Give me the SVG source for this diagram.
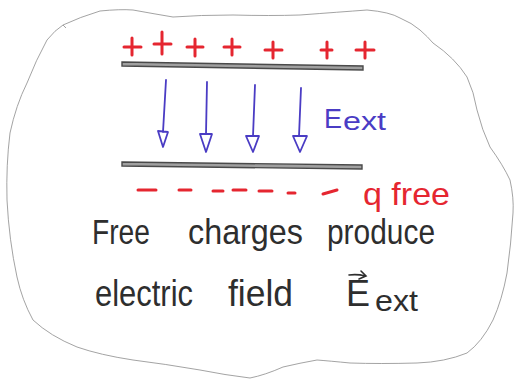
<svg xmlns="http://www.w3.org/2000/svg" width="514" height="381" viewBox="0 0 514 381">
<style>
.outline{fill:none;stroke:#999999;stroke-width:0.9;stroke-linejoin:round}
.plus{fill:none;stroke:#e52630;stroke-width:3;stroke-linecap:round}
.minus{fill:none;stroke:#e52630;stroke-width:3;stroke-linecap:round}
.plate{fill:#a0a0a0;stroke:#4a4a4a;stroke-width:1.4}
.field{fill:none;stroke:#4a3cc4;stroke-width:1.8;stroke-linecap:round;stroke-linejoin:round}
.hand{font-family:"Liberation Sans","DejaVu Sans",sans-serif;fill:#2e2e2e}
.red{font-family:"Liberation Sans","DejaVu Sans",sans-serif;fill:#e52630}
.blue{font-family:"Liberation Sans","DejaVu Sans",sans-serif;fill:#4a3cc4}
</style>
<rect width="514" height="381" fill="#ffffff"/>
<path class="outline" d="M66,28 L63,25 Q80,17 100,11 Q120,9 133,10 Q155,14 173,17 Q200,15 233,15 Q270,16 300,15 Q340,12 367,10 Q390,12 400,18 Q412,23 420,30 Q428,37 433,43 Q455,58 467,77 Q474,92 477,110 Q482,130 490,147 Q503,165 510,180 Q514,198 513,213 Q511,245 507,273 Q502,300 493,320 Q482,342 467,353 Q445,362 417,363 Q380,364 350,363 Q330,361 317,360 Q300,363 283,367 Q265,375 250,378 Q225,375 200,370 Q165,364 133,360 Q100,355 77,347 Q50,336 33,320 Q22,300 17,277 Q9,240 7,200 Q6,165 10,133 Q16,105 27,83 Q36,60 47,40 Q55,30 63,25"/>
<g id="plus-charges">
<path class="plus" d="M124,47 H141 M132,38 V55"/>
<path class="plus" d="M154,44 H171 M162,32 V54"/>
<path class="plus" d="M187,47 H203 M195,39 V56"/>
<path class="plus" d="M224,47 H240 M232,39 V55"/>
<path class="plus" d="M265,50 H282 M273,42 V58"/>
<path class="plus" d="M321,50 H332 M327,42 V58"/>
<path class="plus" d="M356,50 H374 M365,42 V58"/>
</g>
<g id="top-plate">
<path class="plate" d="M122,62 L363,66 L363,70 L122,66 Z"/>
</g>
<g id="bottom-plate">
<path class="plate" d="M122,162 L362,165 L362,169 L122,166 Z"/>
</g>
<g id="field-lines">
<path class="field" d="M166,80 L163,132 M158,131 L163,147 L168,132 Z"/>
<path class="field" d="M207,82 L206,134 M200,134 L206,152 L212,134 Z"/>
<path class="field" d="M255,85 L253,136 M246,136 L253,152 L259,136 Z"/>
<path class="field" d="M301,88 L299,136 M293,136 L300,152 L307,136 Z"/>
</g>
<g id="label-eext">
<text class="blue" x="324" y="128" font-size="27">E<tspan font-size="25" dx="1" dy="2" textLength="43" lengthAdjust="spacingAndGlyphs">ext</tspan></text>
</g>
<g id="minus-charges">
<path class="minus" d="M138,190 H156"/>
<path class="minus" d="M179,190 H191"/>
<path class="minus" d="M213,191 H223"/>
<path class="minus" d="M233,190 H246"/>
<path class="minus" d="M259,191 H272"/>
<path class="minus" d="M288,193 H295"/>
<path class="minus" d="M323,194 L337,190"/>
</g>
<g id="label-qfree">
<text class="red" x="363" y="205" font-size="32" textLength="87" lengthAdjust="spacingAndGlyphs">q free</text>
</g>
<g id="caption">
<text class="hand" x="92" y="244" font-size="35" textLength="58" lengthAdjust="spacingAndGlyphs">Free</text>
<text class="hand" x="188" y="244" font-size="35" textLength="115" lengthAdjust="spacingAndGlyphs">charges</text>
<text class="hand" x="327" y="244" font-size="35" textLength="108" lengthAdjust="spacingAndGlyphs">produce</text>
<text class="hand" x="95" y="306" font-size="36" textLength="98" lengthAdjust="spacingAndGlyphs">electric</text>
<text class="hand" x="228" y="306" font-size="36" textLength="65" lengthAdjust="spacingAndGlyphs">field</text>
<text class="hand" x="346" y="306" font-size="36">E<tspan x="375" dy="5" font-size="30" textLength="43" lengthAdjust="spacingAndGlyphs">ext</tspan></text>
<path d="M349,275 Q358,274 365,276 M361,271 L366,276 L359,279" fill="none" stroke="#2e2e2e" stroke-width="1.6" stroke-linecap="round"/>
</g>
</svg>
